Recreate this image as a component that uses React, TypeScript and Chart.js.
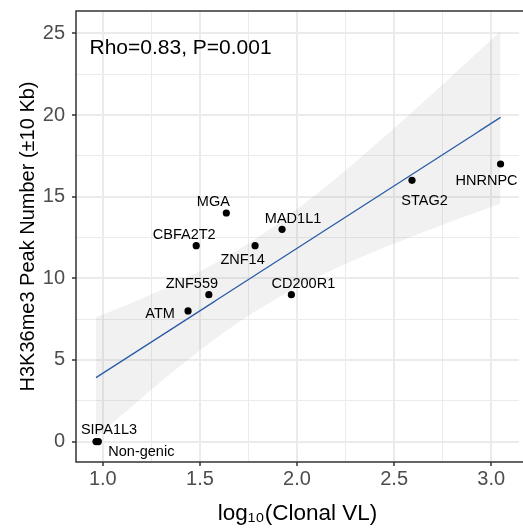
import React, { useEffect, useRef } from "react";
import { Chart, registerables } from "chart.js";

Chart.register(...registerables);

// ---------- data ----------
const genes = ["SIPA1L3", "Non-genic", "ATM", "ZNF559", "CBFA2T2", "MGA", "ZNF14", "MAD1L1", "CD200R1", "STAG2", "HNRNPC"];
const logVL = [0.965, 0.977, 1.439, 1.546, 1.481, 1.636, 1.784, 1.923, 1.971, 2.592, 3.048];
const peaks = [0, 0, 8, 9, 12, 14, 12, 13, 9, 16, 17];

const xMajorTicks = [1.0, 1.5, 2.0, 2.5, 3.0];
const yMajorTicks = [0, 5, 10, 15, 20, 25];
const xTitle = "log₁₀(Clonal VL)";
const yTitle = "H3K36me3 Peak Number (±10 Kb)";
const statText = "Rho=0.83, P=0.001";
const T_CRIT = 2.262; // t quantile 0.975, df = n - 2 = 9

// label placement (pixel offsets from the point: centre x, text baseline y)
const labelDx = [13, 43, -28, -17, -12, -13, -12.5, 11, 12, 12.5, -14];
const labelDy = [-7.4, 14.3, 7, -7, -6.7, -6.6, 18.3, -6, -7, 25, 21];

const FONT = "'Liberation Sans', Arial, Helvetica, sans-serif";

function fitModel() {
  const n = logVL.length;
  const xbar = logVL.reduce((a, b) => a + b, 0) / n;
  const ybar = peaks.reduce((a, b) => a + b, 0) / n;
  let sxx = 0, sxy = 0;
  for (let i = 0; i < n; i++) {
    sxx += (logVL[i] - xbar) ** 2;
    sxy += (logVL[i] - xbar) * (peaks[i] - ybar);
  }
  const slope = sxy / sxx;
  const intercept = ybar - slope * xbar;
  let sse = 0;
  for (let i = 0; i < n; i++) sse += (peaks[i] - (intercept + slope * logVL[i])) ** 2;
  const s = Math.sqrt(sse / (n - 2));
  return { n, xbar, sxx, slope, intercept, s };
}

const isMajorX = (v: number) => xMajorTicks.some((t) => Math.abs(t - v) < 1e-6);
const isMajorY = (v: number) => yMajorTicks.some((t) => Math.abs(t - v) < 1e-6);

export default function App() {
  const ref = useRef<HTMLCanvasElement | null>(null);

  useEffect(() => {
    const canvas = ref.current;
    if (!canvas) return;
    const m = fitModel();
    const xmin = Math.min(...logVL);
    const xmax = Math.max(...logVL);
    const steps = 80;
    const fitLine: { x: number; y: number }[] = [];
    const lower: { x: number; y: number }[] = [];
    const upper: { x: number; y: number }[] = [];
    for (let k = 0; k <= steps; k++) {
      const x = xmin + ((xmax - xmin) * k) / steps;
      const yhat = m.intercept + m.slope * x;
      const se = m.s * Math.sqrt(1 / m.n + (x - m.xbar) ** 2 / m.sxx);
      fitLine.push({ x, y: yhat });
      lower.push({ x, y: yhat - T_CRIT * se });
      upper.push({ x, y: yhat + T_CRIT * se });
    }
    const points = logVL.map((x, i) => ({ x, y: peaks[i] }));

    const framePlugin = {
      id: "frame",
      afterDraw(chart: any) {
        const { ctx, chartArea: a } = chart;
        ctx.save();
        ctx.strokeStyle = "#333333";
        ctx.lineWidth = 1.5;
        ctx.beginPath();
        ctx.moveTo(a.right + 4, a.top);
        ctx.lineTo(a.left, a.top);
        ctx.lineTo(a.left, a.bottom);
        ctx.lineTo(a.right + 4, a.bottom);
        ctx.stroke();
        ctx.restore();
      },
    };

    const labelPlugin = {
      id: "pointLabels",
      afterDatasetsDraw(chart: any) {
        const { ctx } = chart;
        const xs = chart.scales.x;
        const ys = chart.scales.y;
        ctx.save();
        ctx.fillStyle = "#000000";
        ctx.font = `14.5px ${FONT}`;
        ctx.textAlign = "center";
        ctx.textBaseline = "alphabetic";
        genes.forEach((g, i) => {
          const px = xs.getPixelForValue(logVL[i]);
          const py = ys.getPixelForValue(peaks[i]);
          ctx.fillText(g, px + labelDx[i], py + labelDy[i]);
        });
        ctx.font = `21px ${FONT}`;
        ctx.textAlign = "left";
        ctx.fillText(statText, chart.chartArea.left + 13.5, chart.chartArea.top + 43);
        ctx.restore();
      },
    };

    const chart = new Chart(canvas, {
      type: "scatter",
      data: {
        datasets: [
          {
            type: "scatter",
            data: points,
            pointRadius: 3.6,
            pointBackgroundColor: "#000000",
            pointBorderWidth: 0,
            pointBorderColor: "rgba(0,0,0,0)",
          } as any,
          {
            type: "line",
            data: fitLine,
            borderColor: "#2A5BA6",
            borderWidth: 1.3,
            pointRadius: 0,
            fill: false,
            tension: 0,
          } as any,
          {
            type: "line",
            data: lower,
            borderColor: "rgba(0,0,0,0)",
            borderWidth: 0,
            pointRadius: 0,
            fill: false,
          } as any,
          {
            type: "line",
            data: upper,
            borderColor: "rgba(0,0,0,0)",
            borderWidth: 0,
            pointRadius: 0,
            fill: "-1",
            backgroundColor: "rgba(153,153,153,0.14)",
          } as any,
        ],
      },
      options: {
        animation: false,
        responsive: false,
        devicePixelRatio: 1,
        events: [],
        layout: { padding: { left: 0, top: 11, right: 0, bottom: 0 } },
        plugins: { legend: { display: false }, tooltip: { enabled: false } },
        scales: {
          x: {
            type: "linear",
            min: 0.862,
            max: 3.143,
            border: { display: false },
            grid: {
              color: "#EBEBEB",
              lineWidth: (c: any) => (c.tick && isMajorX(c.tick.value) ? 2 : 1),
              drawTicks: true,
              tickLength: 4,
              tickWidth: 1.5,
              tickColor: (c: any) => (c.tick && isMajorX(c.tick.value) ? "#333333" : "rgba(0,0,0,0)"),
            },
            ticks: {
              stepSize: 0.25,
              includeBounds: false,
              autoSkip: false,
              maxRotation: 0,
              padding: 1,
              color: "#4D4D4D",
              font: { family: FONT, size: 20 },
              callback: (v: any) => (isMajorX(Number(v)) ? Number(v).toFixed(1) : ""),
            },
            title: {
              display: true,
              text: xTitle,
              color: "#000000",
              font: { family: FONT, size: 22.5 },
              padding: { top: 0, bottom: 1 },
            },
            afterFit: (s: any) => {
              s.height = 66;
              s.paddingLeft = 0;
              s.paddingRight = 0;
            },
          },
          y: {
            type: "linear",
            min: -1.25,
            max: 26.37,
            border: { display: false },
            grid: {
              color: "#EBEBEB",
              lineWidth: (c: any) => (c.tick && isMajorY(c.tick.value) ? 2 : 1),
              drawTicks: true,
              tickLength: 4,
              tickWidth: 1.5,
              tickColor: (c: any) => (c.tick && isMajorY(c.tick.value) ? "#333333" : "rgba(0,0,0,0)"),
            },
            ticks: {
              stepSize: 2.5,
              includeBounds: false,
              autoSkip: false,
              maxTicksLimit: 100,
              padding: 7,
              color: "#4D4D4D",
              font: { family: FONT, size: 20 },
              callback: (v: any) => (isMajorY(Number(v)) ? String(Number(v)) : ""),
            },
            title: {
              display: true,
              text: yTitle,
              color: "#000000",
              font: { family: FONT, size: 20 },
              padding: { top: 16, bottom: 0 },
            },
            afterFit: (s: any) => {
              s.width = 76;
              s.paddingTop = 0;
              s.paddingBottom = 0;
            },
          },
        },
      } as any,
      plugins: [labelPlugin, framePlugin],
    });
    return () => chart.destroy();
  }, []);

  return (
    <div style={{ position: "absolute", left: 0, top: 0, width: 523, height: 528, overflow: "hidden" }}>
      <canvas ref={ref} width={523} height={528} style={{ display: "block" }} />
    </div>
  );
}
